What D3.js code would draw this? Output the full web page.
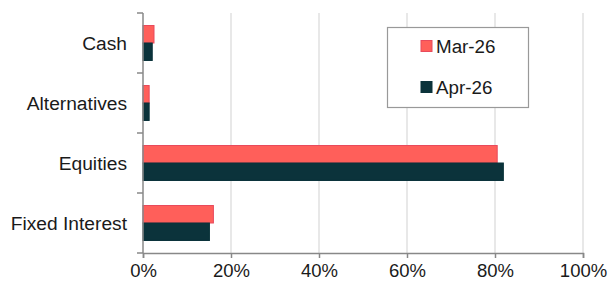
<!DOCTYPE html>
<html>
<head>
<meta charset="utf-8">
<script src="https://cdn.jsdelivr.net/npm/d3@7"></script>
<style>
  body { margin: 0; background: #fff; }
  text { font-family: "Liberation Sans", Arial, sans-serif; fill: #1a1a1a; }
</style>
</head>
<body>
<svg id="chart" width="608" height="284"></svg>
<script>
// chart data
const categories = ["Cash", "Alternatives", "Equities", "Fixed Interest"];
const seriesNames = ["Mar-26", "Apr-26"];
const mar26 = [2.5, 1.4, 80.5, 16.0];
const apr26 = [2.1, 1.4, 81.9, 15.1];
const xTicks = [0, 20, 40, 60, 80, 100];

const colors = {"Mar-26": "#ff5f5a", "Apr-26": "#0b333b"};
const strokes = {"Mar-26": "#e84a5c", "Apr-26": "#0b333b"};

const svg = d3.select("#chart");
const PLOT = {left: 143, right: 583, top: 13, bottom: 253};

const xScale = d3.scaleLinear().domain([0, 100]).range([PLOT.left, PLOT.right]);
const yScale = d3.scaleBand().domain(categories).range([PLOT.top, PLOT.bottom]).paddingInner(0.417).paddingOuter(0.2085);
const inner = d3.scaleBand().domain(seriesNames).range([0, yScale.bandwidth()]);

// gridlines
svg.append("g")
  .selectAll("line")
  .data(xTicks.filter(d => d > 0))
  .join("line")
  .attr("x1", d => xScale(d)).attr("x2", d => xScale(d))
  .attr("y1", PLOT.top).attr("y2", PLOT.bottom)
  .attr("stroke", "#d9d9d9").attr("stroke-width", 1.2);

// bars
const rows = categories.map((c, i) => ({cat: c, values: [{s: "Mar-26", v: mar26[i]}, {s: "Apr-26", v: apr26[i]}]}));
svg.append("g")
  .selectAll("g")
  .data(rows)
  .join("g")
  .attr("transform", d => `translate(0, ${yScale(d.cat)})`)
  .selectAll("rect")
  .data(d => d.values)
  .join("rect")
  .attr("x", xScale(0))
  .attr("y", d => inner(d.s))
  .attr("width", d => xScale(d.v) - xScale(0))
  .attr("height", inner.bandwidth())
  .attr("fill", d => colors[d.s])
  .attr("stroke", d => strokes[d.s])
  .attr("stroke-width", 1);

// x axis
const xAxis = svg.append("g")
  .attr("transform", `translate(0, ${PLOT.bottom})`)
  .call(d3.axisBottom(xScale).tickValues(xTicks).tickFormat(d => d + "%").tickSize(5).tickPadding(6));
xAxis.select(".domain").attr("stroke", "#888").attr("stroke-width", 1.5);
xAxis.selectAll(".tick line").attr("stroke", "#888").attr("stroke-width", 1.5);
xAxis.selectAll("text").style("font-size", "18.5px").attr("fill", "#1a1a1a")
  .style("font-family", "'Liberation Sans', Arial, sans-serif");

// y axis (ticks sit between categories)
const yAxisG = svg.append("g");
yAxisG.append("line")
  .attr("x1", PLOT.left).attr("x2", PLOT.left).attr("y1", PLOT.top).attr("y2", PLOT.bottom)
  .attr("stroke", "#888").attr("stroke-width", 1.5);
const boundaries = categories.map(c => yScale(c) - yScale.step() * yScale.paddingInner() / 2);
boundaries.push(PLOT.bottom);
yAxisG.selectAll("line.tk")
  .data(boundaries)
  .join("line")
  .attr("class", "tk")
  .attr("x1", PLOT.left - 6).attr("x2", PLOT.left)
  .attr("y1", d => d).attr("y2", d => d)
  .attr("stroke", "#888").attr("stroke-width", 1.5);
yAxisG.selectAll("text")
  .data(categories)
  .join("text")
  .attr("x", PLOT.left - 16)
  .attr("y", d => yScale(d) + yScale.bandwidth() / 2)
  .attr("dy", "0.35em")
  .attr("text-anchor", "end")
  .style("font-size", "19.2px")
  .text(d => d);

// legend
const legend = svg.append("g");
legend.append("rect")
  .attr("x", 387.5).attr("y", 27.5).attr("width", 141).attr("height", 80)
  .attr("fill", "#fff").attr("stroke", "#999").attr("stroke-width", 1.2);
const items = legend.selectAll("g")
  .data(seriesNames)
  .join("g")
  .attr("transform", (d, i) => `translate(421, ${46 + i * 41})`);
items.append("rect")
  .attr("x", 0).attr("y", -5.5).attr("width", 11).attr("height", 11)
  .attr("fill", d => colors[d]).attr("stroke", d => strokes[d]);
items.append("text")
  .attr("x", 15).attr("y", 0).attr("dy", "0.35em")
  .style("font-size", "18.8px")
  .text(d => d);
</script>
</body>
</html>
